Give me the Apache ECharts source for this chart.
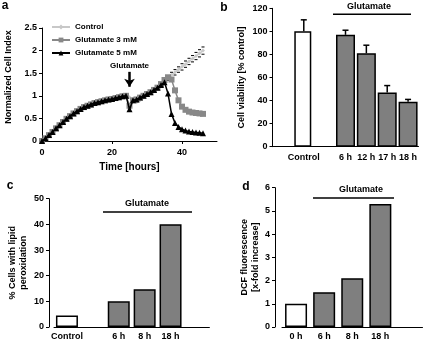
<!DOCTYPE html>
<html>
<head>
<meta charset="utf-8">
<script src="https://cdn.jsdelivr.net/npm/echarts@6/dist/echarts.min.js"></script>
<style>
  html, body { margin: 0; padding: 0; background: #fff; }
  #main { width: 428px; height: 344px; }
</style>
</head>
<body>
<div id="main"></div>
<script>
// panel a: cell index over time
var hours = [0, 1, 2, 3, 4, 5, 6, 7, 8, 9, 10, 11, 12, 13, 14, 15, 16, 17, 18, 19, 20, 21, 22, 23,
  24, 25, 26, 27, 28, 29, 30, 31, 32, 33, 34, 35, 36, 37, 38, 39, 40, 41, 42, 43, 44, 45, 46];
var control = [0, 0.06, 0.13, 0.2, 0.28, 0.35, 0.42, 0.49, 0.55, 0.61, 0.66, 0.71, 0.75, 0.78, 0.81, 0.84,
  0.86, 0.88, 0.9, 0.92, 0.93, 0.95, 0.97, 0.99, 1.0, 0.97, 0.88, 0.86, 0.9, 0.96, 1.02, 1.08, 1.13, 1.19,
  1.25, 1.32, 1.39, 1.46, 1.52, 1.58, 1.64, 1.7, 1.76, 1.82, 1.88, 1.94, 2.0];
var glu3 = [0, 0.06, 0.13, 0.2, 0.28, 0.35, 0.42, 0.49, 0.55, 0.61, 0.66, 0.71, 0.75, 0.78, 0.81, 0.84,
  0.86, 0.88, 0.9, 0.92, 0.93, 0.95, 0.97, 0.99, 1.0, 0.78, 0.9, 0.92, 0.96, 1.0, 1.04, 1.08, 1.13, 1.18,
  1.26, 1.35, 1.41, 1.36, 1.12, 0.9, 0.76, 0.69, 0.65, 0.63, 0.62, 0.61, 0.6];
var glu5 = [0, 0.06, 0.13, 0.2, 0.28, 0.35, 0.42, 0.49, 0.55, 0.61, 0.66, 0.71, 0.75, 0.78, 0.81, 0.84,
  0.86, 0.88, 0.9, 0.92, 0.93, 0.95, 0.97, 0.99, 1.0, 0.7, 0.9, 0.92, 0.96, 1.0, 1.04, 1.08, 1.13, 1.18,
  1.24, 1.3, 1.05, 0.6, 0.4, 0.31, 0.26, 0.23, 0.21, 0.2, 0.19, 0.18, 0.17];
var controlErr = [null, null, null, null, null, null, null, null, null, null, null, null, null, null, null, null,
  null, null, null, null, null, null, null, null, null, null, null, null, null, null, null, null, null, null,
  null, null, 0.05, 0.06, 0.06, 0.06, 0.07, 0.07, 0.07, 0.07, 0.08, 0.08, 0.08];

// panel b: cell viability
var viabCats = ['', 'Control', '', '6 h', '12 h', '17 h', '18 h'];
var viabControl = [null, 100, null, null, null, null, null];
var viabGlu = [null, null, null, 97, 81, 47, 39];
var viabErr = [null, 10, null, 4, 7, 6, 2];

// panel c: lipid peroxidation
var lipidCats = ['Control', '', '6 h', '8 h', '18 h', ''];
var lipidControl = [4.5, null, null, null, null, null];
var lipidGlu = [null, null, 10, 14.7, 40, null];

// panel d: DCF fluorescence
var dcfCats = ['0 h', '6 h', '8 h', '18 h', ''];
var dcfControl = [1.0, null, null, null, null];
var dcfGlu = [null, 1.5, 2.1, 5.3, null];

var FONT = 'Liberation Sans';
function txt(size) {
  return { color: '#000', fontFamily: FONT, fontWeight: 'bold', fontSize: size };
}
var axisLine = { show: true, lineStyle: { color: '#000', width: 1 } };

function valueY(gi, max, interval, name, gap, offset, pad) {
  return {
    type: 'value', gridIndex: gi, min: 0, max: max, interval: interval, offset: offset || 0,
    name: name, nameLocation: 'middle', nameGap: gap,
    nameTextStyle: Object.assign(txt(9), { lineHeight: 11, padding: pad || 0 }),
    axisLine: axisLine, axisTick: { show: true, length: 3, lineStyle: { color: '#000' } },
    axisLabel: Object.assign(txt(9), { margin: 5 }), splitLine: { show: false }
  };
}
function catX(gi, cats, margin) {
  return {
    type: 'category', gridIndex: gi, data: cats,
    axisLine: axisLine, axisTick: { show: false },
    axisLabel: Object.assign(txt(9), { margin: margin, interval: 0 })
  };
}
function bars(xi, vals, color, width) {
  return {
    type: 'bar', xAxisIndex: xi, yAxisIndex: xi, data: vals, barWidth: width, barGap: '-100%',
    itemStyle: { color: color, borderColor: '#000', borderWidth: 1.5 }
  };
}
function errBars(xi, vals, errs) {
  var data = [];
  errs.forEach(function (e, i) { if (e != null) data.push([i, vals[i], e]); });
  return {
    type: 'custom', xAxisIndex: xi, yAxisIndex: xi, data: data, z: 3,
    renderItem: function (params, api) {
      var base = api.coord([api.value(0), api.value(1)]);
      var top = api.coord([api.value(0), api.value(1) + api.value(2)]);
      var st = { stroke: '#000', lineWidth: 1.5 };
      return { type: 'group', children: [
        { type: 'line', shape: { x1: base[0], y1: base[1], x2: top[0], y2: top[1] }, style: st },
        { type: 'line', shape: { x1: top[0] - 3, y1: top[1], x2: top[0] + 3, y2: top[1] }, style: st }
      ] };
    }
  };
}
function merge(a, b) { return a.map(function (v, i) { return v != null ? v : b[i]; }); }

var ctrlErrData = [];
controlErr.forEach(function (e, i) { if (e != null) ctrlErrData.push([hours[i], control[i], e]); });

function annot(x1, x2, y, cx, cy) {
  return [
    { type: 'line', shape: { x1: x1, y1: y, x2: x2, y2: y }, style: { stroke: '#000', lineWidth: 1.5 } },
    { type: 'text', x: cx, y: cy, style: { text: 'Glutamate', fill: '#000', align: 'center',
      verticalAlign: 'middle', font: 'bold 9px "Liberation Sans"' } }
  ];
}
function plabel(t, x, y) {
  return { type: 'text', x: x, y: y, style: { text: t, fill: '#000', align: 'center', verticalAlign: 'middle',
    font: 'bold 12px "Liberation Sans"' } };
}

var chart = echarts.init(document.getElementById('main'));
var option = {
  animation: false,
  backgroundColor: '#fff',
  grid: [
    { left: 42, top: 28, width: 175, height: 113 },
    { left: 272.5, top: 8.3, width: 146, height: 138.4 },
    { left: 54, top: 198.7, width: 155.4, height: 128.3 },
    { left: 282, top: 187.7, width: 140.5, height: 139.3 }
  ],
  legend: {
    orient: 'vertical', left: 46, top: 18, itemWidth: 18, itemHeight: 6, itemGap: 5,
    textStyle: txt(8), data: ['Control', 'Glutamate 3 mM', 'Glutamate 5 mM']
  },
  xAxis: [
    {
      type: 'value', gridIndex: 0, min: 0, max: 50, interval: 20,
      name: 'Time [hours]', nameLocation: 'middle', nameGap: 21, nameTextStyle: txt(10),
      axisLine: axisLine,
      axisTick: { show: true, length: 3, lineStyle: { color: '#000' }, customValues: [0, 20, 40] },
      axisLabel: Object.assign(txt(9), { margin: 7, customValues: [0, 20, 40] }),
      splitLine: { show: false }
    },
    catX(1, viabCats, 6),
    catX(2, lipidCats, 5),
    catX(3, dcfCats, 5)
  ],
  yAxis: [
    valueY(0, 2.5, 0.5, 'Normalized Cell Index', 28, 0, [0, 0, 0, 15]),
    valueY(1, 120, 20, 'Cell viability [% control]', 25),
    valueY(2, 50, 10, '% Cells with lipid\nperoxidation', 20, 5),
    valueY(3, 6, 1, 'DCF fluorescence\n[x-fold increase]', 12, 7)
  ],
  series: [
    {
      name: 'Control', type: 'line', xAxisIndex: 0, yAxisIndex: 0, z: 2,
      data: hours.map(function (h, i) { return [h, control[i]]; }),
      symbol: 'diamond', symbolSize: 4, color: '#c8c8c8', lineStyle: { width: 1.5 }
    },
    {
      type: 'custom', xAxisIndex: 0, yAxisIndex: 0, data: ctrlErrData, z: 2,
      renderItem: function (params, api) {
        var up = api.coord([api.value(0), api.value(1) + api.value(2)]);
        var dn = api.coord([api.value(0), api.value(1) - api.value(2)]);
        var st = { stroke: '#000', lineWidth: 1 };
        return { type: 'group', children: [
          { type: 'line', shape: { x1: up[0] - 1.5, y1: up[1], x2: up[0] + 1.5, y2: up[1] }, style: st },
          { type: 'line', shape: { x1: dn[0] - 1.5, y1: dn[1], x2: dn[0] + 1.5, y2: dn[1] }, style: st }
        ] };
      }
    },
    {
      name: 'Glutamate 3 mM', type: 'line', xAxisIndex: 0, yAxisIndex: 0, z: 3,
      data: hours.map(function (h, i) { return [h, glu3[i]]; }),
      symbol: 'rect', symbolSize: 6, color: '#888888', lineStyle: { width: 1.5 }
    },
    {
      name: 'Glutamate 5 mM', type: 'line', xAxisIndex: 0, yAxisIndex: 0, z: 4,
      data: hours.map(function (h, i) { return [h, glu5[i]]; }),
      symbol: 'triangle', symbolSize: 6, color: '#000', lineStyle: { width: 1.5 },
      markLine: {
        silent: true, symbol: ['none', 'arrow'], symbolSize: [8, 8],
        lineStyle: { color: '#000', width: 2.5, type: 'solid' },
        label: Object.assign(txt(8), { show: true, position: 'start', distance: 2, formatter: 'Glutamate' }),
        data: [[{ coord: [25, 1.53] }, { coord: [25, 1.2] }]]
      }
    },
    bars(1, viabControl, '#fff', 17),
    bars(1, viabGlu, '#7f7f7f', 19),
    errBars(1, merge(viabControl, viabGlu), viabErr),
    bars(2, lipidControl, '#fff', 22),
    bars(2, lipidGlu, '#7f7f7f', 22),
    bars(3, dcfControl, '#fff', 22),
    bars(3, dcfGlu, '#7f7f7f', 22)
  ],
  graphic: [
    plabel('a', 5, 6), plabel('b', 224, 8), plabel('c', 10, 186), plabel('d', 246, 187)
  ].concat(annot(333, 411, 14.3, 369, 7), annot(103, 192, 212, 147, 204), annot(313, 394, 198, 361, 190))
};
chart.setOption(option);
</script>
</body>
</html>
